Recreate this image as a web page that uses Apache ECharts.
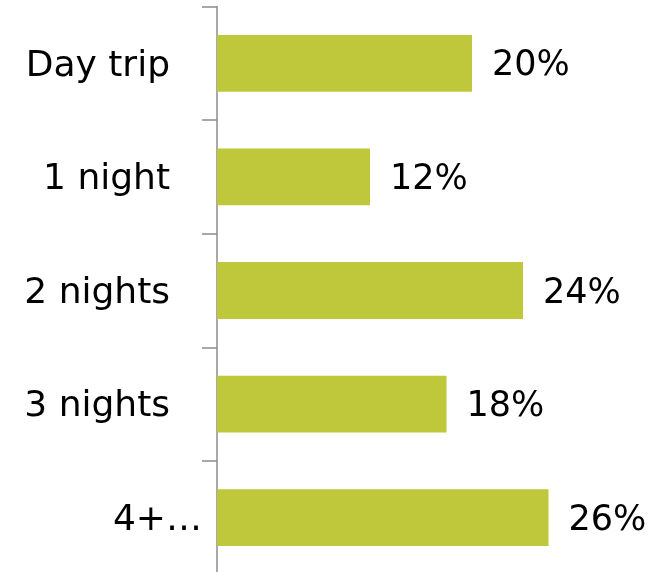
<!DOCTYPE html>
<html>
<head>
<meta charset="utf-8">
<script src="https://cdn.jsdelivr.net/npm/echarts@6/dist/echarts.min.js"></script>
<style>
  html, body { margin: 0; padding: 0; background: #fff; overflow: hidden; }
  /* taller than the window so the bottom band can run past the edge */
  #chart { width: 659px; height: 590px; }
</style>
</head>
<body>
<div id="chart"></div>
<script>
// data
const categories = ['Day trip', '1 night', '2 nights', '3 nights', '4+…']
const shares = [20, 12, 24, 18, 26]

const chart = echarts.init(document.getElementById('chart'))

const option = {
  animation: false,
  grid: { left: 217, right: 59.5, top: 6.5, height: 568 },
  xAxis: {
    type: 'value',
    min: 0,
    max: 30,
    show: false
  },
  yAxis: {
    type: 'category',
    data: categories,
    inverse: true,
    axisLine: { lineStyle: { color: '#8c8c8c', width: 1.5 } },
    axisTick: { show: true, interval: 0, length: 15, lineStyle: { color: '#8c8c8c', width: 1.5 } },
    axisLabel: {
      margin: 15,
      fontFamily: 'DejaVu Sans',
      fontSize: 35,
      color: '#000',
      // the last label sits closer to the axis than the others
      formatter: (v) => v === '4+…' ? '{near|' + v + '}' : '{far|' + v + '}',
      rich: {
        far: { fontFamily: 'DejaVu Sans', fontSize: 36, color: '#000', padding: [6, 32, 0, 0] },
        near: { fontFamily: 'DejaVu Sans', fontSize: 36, color: '#000', padding: [6, 0, 0, 0] }
      }
    }
  },
  series: [
    {
      type: 'bar',
      data: shares,
      barWidth: '50%',
      itemStyle: { color: '#bec83a' },
      label: {
        show: true,
        position: 'right',
        distance: 20,
        offset: [0, 3],
        formatter: '{c}%',
        fontFamily: 'DejaVu Sans',
        fontSize: 35,
        color: '#000'
      }
    }
  ]
}

chart.setOption(option)
</script>
</body>
</html>
